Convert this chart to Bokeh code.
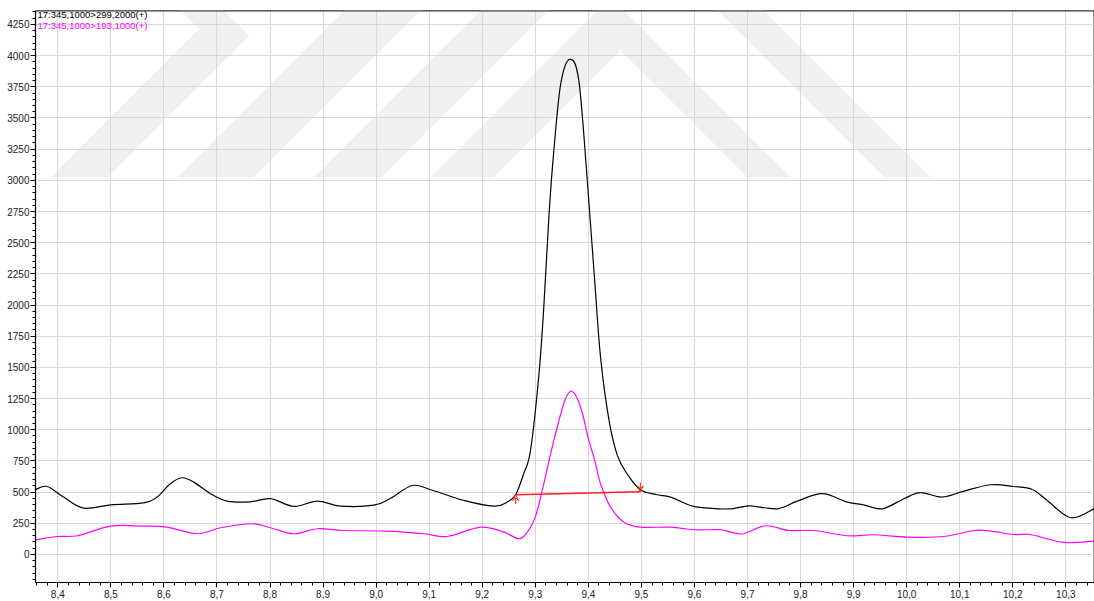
from bokeh.plotting import figure
from bokeh.models import (SingleIntervalTicker, CustomJSTickFormatter, Label, Arrow,
                          VeeHead, Range1d)
from bokeh.embed import file_html
from bokeh.resources import INLINE

# ---- data ----
black_x = [8.358, 8.380, 8.411, 8.449, 8.500, 8.562, 8.587, 8.612, 8.634, 8.656,
           8.688, 8.719, 8.763, 8.801, 8.845, 8.889, 8.933, 8.996, 9.027,
           9.068, 9.103, 9.165, 9.222, 9.247, 9.263, 9.278, 9.291, 9.307,
           9.316, 9.326, 9.335, 9.348, 9.365, 9.382, 9.398, 9.411,
           9.423, 9.439, 9.455, 9.473, 9.498, 9.530, 9.555, 9.599, 9.649, 9.668,
           9.687, 9.706, 9.756, 9.794, 9.841, 9.888, 9.919, 9.954, 9.995, 10.026,
           10.067, 10.108, 10.158, 10.202, 10.237, 10.265, 10.309, 10.353]
black_y = [520, 545, 460, 371, 398, 414, 460, 567, 615, 580,
           487, 428, 422, 447, 385, 428, 387, 395, 450,
           553, 519, 433, 387, 420, 479, 647, 834, 1449,
           1983, 2732, 3240, 3775, 3970, 3801, 2999, 2251,
           1582, 1075, 790, 647, 519, 479, 460, 385, 366, 366,
           379, 390, 366, 428, 487, 420, 398, 366, 447, 495,
           460, 508, 559, 545, 521, 433, 294, 366]

magenta_x = [8.358, 8.399, 8.437, 8.500, 8.562, 8.606, 8.663, 8.707, 8.766, 8.801,
             8.845, 8.889, 8.939, 9.021, 9.090, 9.134, 9.197, 9.241, 9.269, 9.285,
             9.300, 9.313, 9.326, 9.335, 9.348, 9.358, 9.368, 9.378, 9.389, 9.401,
             9.412, 9.423, 9.442, 9.467, 9.498, 9.555, 9.599, 9.649, 9.668, 9.693,
             9.734, 9.778, 9.825, 9.888, 9.938, 10.001, 10.070, 10.127, 10.158, 10.202,
             10.233, 10.296, 10.353]
magenta_y = [118, 144, 150, 227, 227, 219, 166, 214, 246, 214,
             166, 206, 192, 187, 166, 144, 219, 179, 126, 179,
             299, 513, 754, 914, 1128, 1260, 1310, 1260, 1128, 914,
             754, 567, 379, 259, 219, 219, 198, 198, 179, 166,
             230, 192, 192, 150, 158, 139, 144, 192, 187, 160,
             160, 96, 107]

baseline_x = [9.263, 9.498]
baseline_y = [479, 503]

series_labels = ["17:345,1000>299,2000(+)", "17:345,1000>193,1000(+)"]

# ---- background watermark (decoration) ----
watermark = [
    ([8.3862, 8.4937, 8.7604, 8.6935, 8.6124, 8.6662], [3023, 3023, 4158, 4443, 4443, 4214]),
    ([8.6256, 8.7688, 9.1025, 8.9593], [3023, 3023, 4443, 4443]),
    ([8.8825, 9.0088, 9.3425, 9.2162], [3023, 3023, 4443, 4443]),
    ([9.1025, 9.2213, 9.4607, 9.7001, 9.7812, 9.4418], [3023, 3023, 4042, 3023, 3023, 4467]),
    ([9.6247, 9.7114, 10.045, 9.9584], [4443, 4443, 3023, 3023]),
]

FONT = "Liberation Sans"


def smooth_segments(xs, ys):
    """Catmull-Rom control points so the library draws smooth Bezier curves through the points."""
    n = len(xs)
    out = {k: [] for k in ("x0", "y0", "x1", "y1", "cx0", "cy0", "cx1", "cy1")}
    for i in range(n - 1):
        im = max(i - 1, 0)
        ip = min(i + 2, n - 1)
        out["x0"].append(xs[i]); out["y0"].append(ys[i])
        out["x1"].append(xs[i + 1]); out["y1"].append(ys[i + 1])
        out["cx0"].append(xs[i] + (xs[i + 1] - xs[im]) / 6.0)
        out["cy0"].append(ys[i] + (ys[i + 1] - ys[im]) / 6.0)
        out["cx1"].append(xs[i + 1] - (xs[ip] - xs[i]) / 6.0)
        out["cy1"].append(ys[i + 1] - (ys[ip] - ys[i]) / 6.0)
    return out


p = figure(width=1094, height=601, output_backend="svg", toolbar_location=None,
           x_range=Range1d(8.358, 10.354), y_range=Range1d(-225, 4362),
           min_border_left=35, min_border_right=0, min_border_top=10, min_border_bottom=19)
p.background_fill_color = "white"
p.border_fill_color = "white"
p.outline_line_color = "#9a9a9a"
p.outline_line_width = 1

for wx, wy in watermark:
    p.patch(wx, wy, fill_color="#f0f0f0", line_color=None, level="image")

xt = SingleIntervalTicker(interval=0.1, num_minor_ticks=5)
yt = SingleIntervalTicker(interval=250, num_minor_ticks=5)
p.xaxis.ticker = xt
p.yaxis.ticker = yt
p.xaxis.formatter = CustomJSTickFormatter(code="return tick.toFixed(1).replace('.', ',');")
p.yaxis.formatter = CustomJSTickFormatter(code="return tick.toFixed(0);")

for ax in (p.xaxis[0], p.yaxis[0]):
    ax.axis_line_color = "black"
    ax.axis_line_width = 1.2
    ax.major_tick_line_color = "black"
    ax.minor_tick_line_color = "black"
    ax.major_tick_out = 5
    ax.major_tick_in = 0
    ax.minor_tick_out = 3
    ax.minor_tick_in = 0
    ax.major_label_text_font = FONT
    ax.major_label_text_font_size = "10px"
    ax.major_label_text_color = "#222222"
    ax.major_label_standoff = 2
p.yaxis.major_label_standoff = 1

p.xgrid.grid_line_color = "#d9d9d9"
p.ygrid.grid_line_color = "#d9d9d9"
p.xgrid.ticker = xt
p.ygrid.ticker = yt

# dark top border line
p.line([8.358, 10.354], [4362, 4362], line_color="#333333", line_width=2)

mag = smooth_segments(magenta_x, magenta_y)
blk = smooth_segments(black_x, black_y)
p.bezier(line_color="#ff00ff", line_width=1.2, **mag)
p.bezier(line_color="black", line_width=1.2, **blk)

# integration baseline
p.line(baseline_x, baseline_y, line_color="#ff2020", line_width=1.5)
head_len = 75
p.add_layout(Arrow(end=VeeHead(size=6, line_color="#ff2020", line_width=1, fill_alpha=0),
                   x_start=baseline_x[0], y_start=baseline_y[0] - head_len,
                   x_end=baseline_x[0], y_end=baseline_y[0],
                   line_color="#ff2020", line_width=1))
p.add_layout(Arrow(end=VeeHead(size=6, line_color="#ff2020", line_width=1, fill_alpha=0),
                   x_start=baseline_x[1], y_start=baseline_y[1] + head_len,
                   x_end=baseline_x[1], y_end=baseline_y[1],
                   line_color="#ff2020", line_width=1))

p.add_layout(Label(x=8.3618, y=4374, text=series_labels[0], text_font=FONT,
                   text_font_size="9.5px", text_color="black", text_baseline="top"))
p.add_layout(Label(x=8.3618, y=4288, text=series_labels[1], text_font=FONT,
                   text_font_size="9.5px", text_color="#ff00ff", text_baseline="top"))

open("out.html", "w").write(file_html(p, INLINE))
